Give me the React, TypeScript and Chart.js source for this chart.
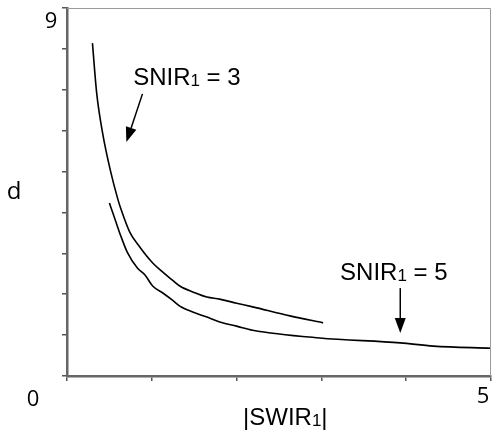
import React, { useEffect, useRef } from "react";
import { Chart, registerables } from "chart.js";

Chart.register(...registerables);

// Curve SNIR1 = 3
const snir3X = [0.30, 0.35, 0.42, 0.51, 0.60, 0.64, 0.74, 0.86, 1.0, 1.13, 1.24, 1.33, 1.49, 1.65, 1.80, 2.0, 2.19, 2.63, 3.02];
const snir3Y = [8.14, 6.92, 5.94, 5.04, 4.32, 4.06, 3.52, 3.15, 2.79, 2.54, 2.35, 2.20, 2.05, 1.93, 1.88, 1.78, 1.69, 1.47, 1.30];
// Curve SNIR1 = 5
const snir5X = [0.50, 0.57, 0.63, 0.71, 0.83, 0.92, 1.01, 1.13, 1.24, 1.33, 1.49, 1.65, 1.80, 2.0, 2.19, 2.98, 3.93, 4.32, 5.0];
const snir5Y = [4.23, 3.81, 3.45, 3.03, 2.64, 2.47, 2.20, 2.03, 1.86, 1.71, 1.56, 1.44, 1.32, 1.22, 1.12, 0.93, 0.81, 0.73, 0.68];

// axis ranges / ticks
const xMin = 0, xMax = 5;
const yMin = 0, yMax = 9;
const xLabels = ["0", "5"];
const yLabels = ["9"];

// annotations
const annoText = ["SNIR", "SNIR"];
const annoSub = ["1", "1"];
const annoRest = [" = 3", " = 5"];
const annoTextX = [0.78, 3.22];
const annoTextY = [7.29, 2.52];
const arrowFromX = [0.89, 3.93];
const arrowFromY = [6.9, 2.15];
const arrowToX = [0.70, 3.93];
const arrowToY = [5.72, 1.05];

const toPts = (xs: number[], ys: number[]) => xs.map((x, i) => ({ x, y: ys[i] }));

const MAIN = "24px 'Liberation Sans', Arial, sans-serif";
const SUB = "17px 'Liberation Sans', Arial, sans-serif";
const TICK = "22px 'Open Sans', 'DejaVu Sans', sans-serif";

const decorPlugin = {
  id: "decor",
  afterDraw(chart: any) {
    const ctx = chart.ctx;
    const { left, right, top, bottom } = chart.chartArea;
    const xs = chart.scales.x;
    const ys = chart.scales.y;
    ctx.save();
    // frame top/right
    ctx.strokeStyle = "#9a9a9a";
    ctx.lineWidth = 1;
    ctx.beginPath();
    ctx.moveTo(left, top + 0.5);
    ctx.lineTo(right - 0.5, top + 0.5);
    ctx.lineTo(right - 0.5, bottom);
    ctx.stroke();

    // tick labels
    ctx.fillStyle = "#000";
    ctx.font = TICK;
    ctx.textBaseline = "middle";
    ctx.textAlign = "center";
    ctx.fillText(yLabels[0], ys.left + 51, ys.getPixelForValue(yMax) + 14);
    ctx.fillText(xLabels[0], xs.getPixelForValue(xMin) - 34, bottom + 24);
    ctx.fillText(xLabels[1], xs.getPixelForValue(xMax) - 8, bottom + 21);

    // axis titles
    ctx.font = "24px 'Open Sans', 'DejaVu Sans', sans-serif";
    ctx.fillText("d", 14, ys.getPixelForValue(4.5));
    ctx.textAlign = "left";
    ctx.font = MAIN;
    const t1 = "|SWIR";
    const w1 = ctx.measureText(t1).width;
    ctx.font = SUB;
    const w2 = ctx.measureText("1").width;
    const tx = 243;
    const ty = bottom + 42;
    ctx.font = MAIN;
    ctx.fillText(t1, tx, ty);
    ctx.font = SUB;
    ctx.fillText("1", tx + w1, ty + 3);
    ctx.font = MAIN;
    ctx.fillText("|", tx + w1 + w2, ty);

    // annotations
    for (let i = 0; i < annoText.length; i++) {
      const px = xs.getPixelForValue(annoTextX[i]);
      const py = ys.getPixelForValue(annoTextY[i]);
      ctx.textAlign = "left";
      ctx.font = MAIN;
      ctx.fillText(annoText[i], px, py);
      let cx = px + ctx.measureText(annoText[i]).width;
      ctx.font = SUB;
      ctx.fillText(annoSub[i], cx, py + 3);
      cx += ctx.measureText(annoSub[i]).width;
      ctx.font = MAIN;
      ctx.fillText(annoRest[i], cx, py);

      const x1 = xs.getPixelForValue(arrowFromX[i]);
      const y1 = ys.getPixelForValue(arrowFromY[i]);
      const x2 = xs.getPixelForValue(arrowToX[i]);
      const y2 = ys.getPixelForValue(arrowToY[i]);
      const ang = Math.atan2(y2 - y1, x2 - x1);
      const hl = 15, hw = 5.5;
      const bx = x2 - hl * Math.cos(ang);
      const by = y2 - hl * Math.sin(ang);
      ctx.strokeStyle = "#000";
      ctx.lineWidth = 1.5;
      ctx.beginPath();
      ctx.moveTo(x1, y1);
      ctx.lineTo(bx, by);
      ctx.stroke();
      ctx.fillStyle = "#000";
      ctx.beginPath();
      ctx.moveTo(x2, y2);
      ctx.lineTo(bx + hw * Math.sin(ang), by - hw * Math.cos(ang));
      ctx.lineTo(bx - hw * Math.sin(ang), by + hw * Math.cos(ang));
      ctx.closePath();
      ctx.fill();
    }
    ctx.restore();
  },
};

export default function App() {
  const ref = useRef<HTMLCanvasElement | null>(null);
  useEffect(() => {
    if (!ref.current) return;
    const chart = new Chart(ref.current, {
      type: "scatter",
      data: {
        datasets: [
          {
            data: toPts(snir3X, snir3Y),
            showLine: true,
            borderColor: "#000",
            borderWidth: 1.6,
            pointRadius: 0,
            cubicInterpolationMode: "monotone",
          },
          {
            data: toPts(snir5X, snir5Y),
            showLine: true,
            borderColor: "#000",
            borderWidth: 1.6,
            pointRadius: 0,
            cubicInterpolationMode: "monotone",
          },
        ],
      },
      options: {
        animation: false,
        responsive: false,
        layout: { padding: { top: 8, right: 2, left: 0, bottom: 0 } },
        plugins: { legend: { display: false }, tooltip: { enabled: false } },
        scales: {
          x: {
            type: "linear",
            min: xMin,
            max: xMax,
            ticks: { display: false, stepSize: 1 },
            grid: { drawOnChartArea: false, drawTicks: true, tickLength: 5, color: "#555", lineWidth: 1.5 },
            border: { color: "#666", width: 2.5 },
            afterFit: (s: any) => { s.height = 58; },
          },
          y: {
            type: "linear",
            min: yMin,
            max: yMax,
            ticks: { display: false, stepSize: 1 },
            grid: { drawOnChartArea: false, drawTicks: true, tickLength: 5, color: "#555", lineWidth: 1.5 },
            border: { color: "#666", width: 2.5 },
            afterFit: (s: any) => { s.width = 67; },
          },
        },
      },
      plugins: [decorPlugin],
    });
    return () => chart.destroy();
  }, []);
  return (
    <div style={{ position: "fixed", left: 0, top: 0, width: 493, height: 434, background: "#fff" }}>
      <canvas ref={ref} width={493} height={434} style={{ display: "block" }} />
    </div>
  );
}
